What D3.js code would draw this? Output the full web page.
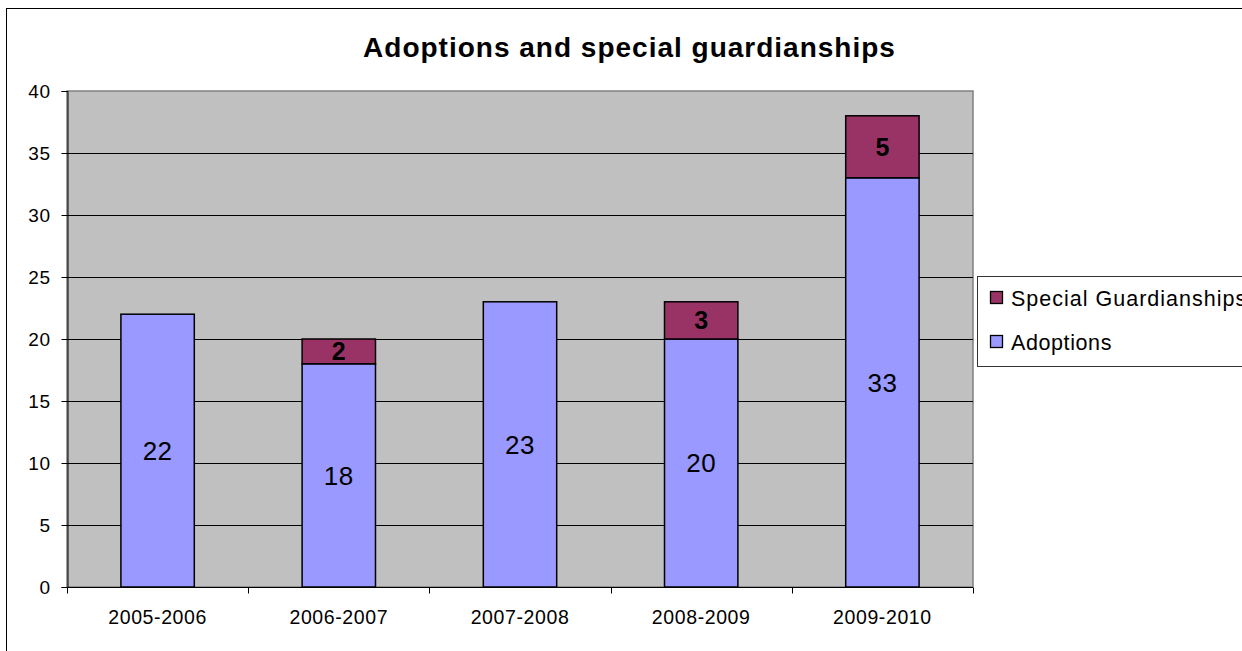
<!DOCTYPE html>
<html>
<head>
<meta charset="utf-8">
<script src="https://cdn.jsdelivr.net/npm/d3@7"></script>
<style>
html,body{margin:0;padding:0;background:#fff;overflow:hidden;}
svg{display:block;font-family:Arial,"Liberation Sans",sans-serif;}
</style>
</head>
<body>
<svg id="chart" width="1242" height="651"></svg>
<script>
const categories = ["2005-2006","2006-2007","2007-2008","2008-2009","2009-2010"];
const adoptions = [22,18,23,20,33];
const specialGuardianships = [0,2,0,3,5];
const yTicks = [0,5,10,15,20,25,30,35,40];
const seriesNames = ["Special Guardianships","Adoptions"];
const title = "Adoptions and special guardianships";

const svg = d3.select("#chart");
const plot = {left:67, top:91, right:973, bottom:587};

// outer chart frame
svg.append("rect").attr("x",6.5).attr("y",8.5).attr("width",1300).attr("height",700)
  .attr("fill","#fff").attr("stroke","#000").attr("stroke-width",1);

const x = d3.scaleBand().domain(categories).range([plot.left, plot.right]).padding(0);
const y = d3.scaleLinear().domain([0,40]).range([plot.bottom, plot.top]);

// plot area
svg.append("rect").attr("x",plot.left).attr("y",plot.top)
  .attr("width",plot.right-plot.left).attr("height",plot.bottom-plot.top)
  .attr("fill","#C0C0C0").attr("stroke","#808080").attr("stroke-width",1.5);

// gridlines
svg.append("g").selectAll("line").data(yTicks.filter(t=>t>0 && t<40)).join("line")
  .attr("x1",plot.left).attr("x2",plot.right)
  .attr("y1",d=>Math.round(y(d))+0.5).attr("y2",d=>Math.round(y(d))+0.5)
  .attr("stroke","#000").attr("stroke-width",1);

// y axis
const yAxis = d3.axisLeft(y).tickValues(yTicks).tickSize(6).tickPadding(11);
const gy = svg.append("g").attr("transform",`translate(${plot.left+0.5},0)`).call(yAxis);
gy.select(".domain").attr("stroke","#000");
gy.selectAll(".tick line").attr("stroke","#000");
gy.selectAll(".tick text").attr("font-size",19).attr("letter-spacing",0.5).attr("fill","#000")
  .attr("font-family","Arial,'Liberation Sans',sans-serif");

// x axis with ticks at category boundaries
const gx = svg.append("g").attr("transform",`translate(0,${plot.bottom+0.5})`);
gx.append("line").attr("x1",plot.left).attr("x2",plot.right).attr("stroke","#000");
const bounds = categories.map(c=>x(c)).concat([x(categories[categories.length-1])+x.bandwidth()]);
gx.selectAll("line.tk").data(bounds).join("line").attr("class","tk")
  .attr("x1",d=>Math.round(d)+0.5).attr("x2",d=>Math.round(d)+0.5)
  .attr("y1",0).attr("y2",6).attr("stroke","#000");
gx.selectAll("text").data(categories).join("text")
  .attr("x",d=>x(d)+x.bandwidth()/2).attr("y",36)
  .attr("text-anchor","middle").attr("font-size",19.5).attr("letter-spacing",0.6).attr("fill","#000")
  .text(d=>d);

// bars
const bw = x.bandwidth()*0.405;
const data = categories.map((c,i)=>({c, a:adoptions[i], s:specialGuardianships[i]}));
const gb = svg.append("g");
gb.selectAll("rect.ad").data(data).join("rect").attr("class","ad")
  .attr("x",d=>x(d.c)+x.bandwidth()/2-bw/2).attr("width",bw)
  .attr("y",d=>y(d.a)).attr("height",d=>y(0)-y(d.a))
  .attr("fill","#9999FF").attr("stroke","#000").attr("stroke-width",1.5);
gb.selectAll("rect.sg").data(data.filter(d=>d.s>0)).join("rect").attr("class","sg")
  .attr("x",d=>x(d.c)+x.bandwidth()/2-bw/2).attr("width",bw)
  .attr("y",d=>y(d.a+d.s)).attr("height",d=>y(d.a)-y(d.a+d.s))
  .attr("fill","#993366").attr("stroke","#000").attr("stroke-width",1.5);

// labels
gb.selectAll("text.adl").data(data).join("text").attr("class","adl")
  .attr("x",d=>x(d.c)+x.bandwidth()/2).attr("y",d=>(y(0)+y(d.a))/2)
  .attr("dy","0.35em").attr("text-anchor","middle").attr("font-size",26).attr("letter-spacing",0.5).attr("fill","#000")
  .text(d=>d.a);
gb.selectAll("text.sgl").data(data.filter(d=>d.s>0)).join("text").attr("class","sgl")
  .attr("x",d=>x(d.c)+x.bandwidth()/2).attr("y",d=>(y(d.a)+y(d.a+d.s))/2)
  .attr("dy","0.35em").attr("text-anchor","middle").attr("font-size",25).attr("font-weight","bold").attr("fill","#000")
  .text(d=>d.s);

// title
svg.append("text").attr("x",629.5).attr("y",57).attr("text-anchor","middle")
  .attr("font-size",28).attr("letter-spacing",1).attr("font-weight","bold").attr("fill","#000").text(title);

// legend
const lg = svg.append("g");
lg.append("rect").attr("x",977.5).attr("y",276.5).attr("width",300).attr("height",90)
  .attr("fill","#fff").attr("stroke","#333").attr("stroke-width",1);
const legColors = ["#993366","#9999FF"];
const legY = [298, 342];
seriesNames.forEach((n,i)=>{
  lg.append("rect").attr("x",990.5).attr("y",legY[i]-6.5).attr("width",12).attr("height",12)
    .attr("fill",legColors[i]).attr("stroke","#000").attr("stroke-width",1.3);
  lg.append("text").attr("x",1011).attr("y",legY[i]).attr("dy","0.35em")
    .attr("font-size",21.5).attr("letter-spacing",i===0?1.0:0.6).attr("fill","#000").text(n);
});
</script>
</body>
</html>
